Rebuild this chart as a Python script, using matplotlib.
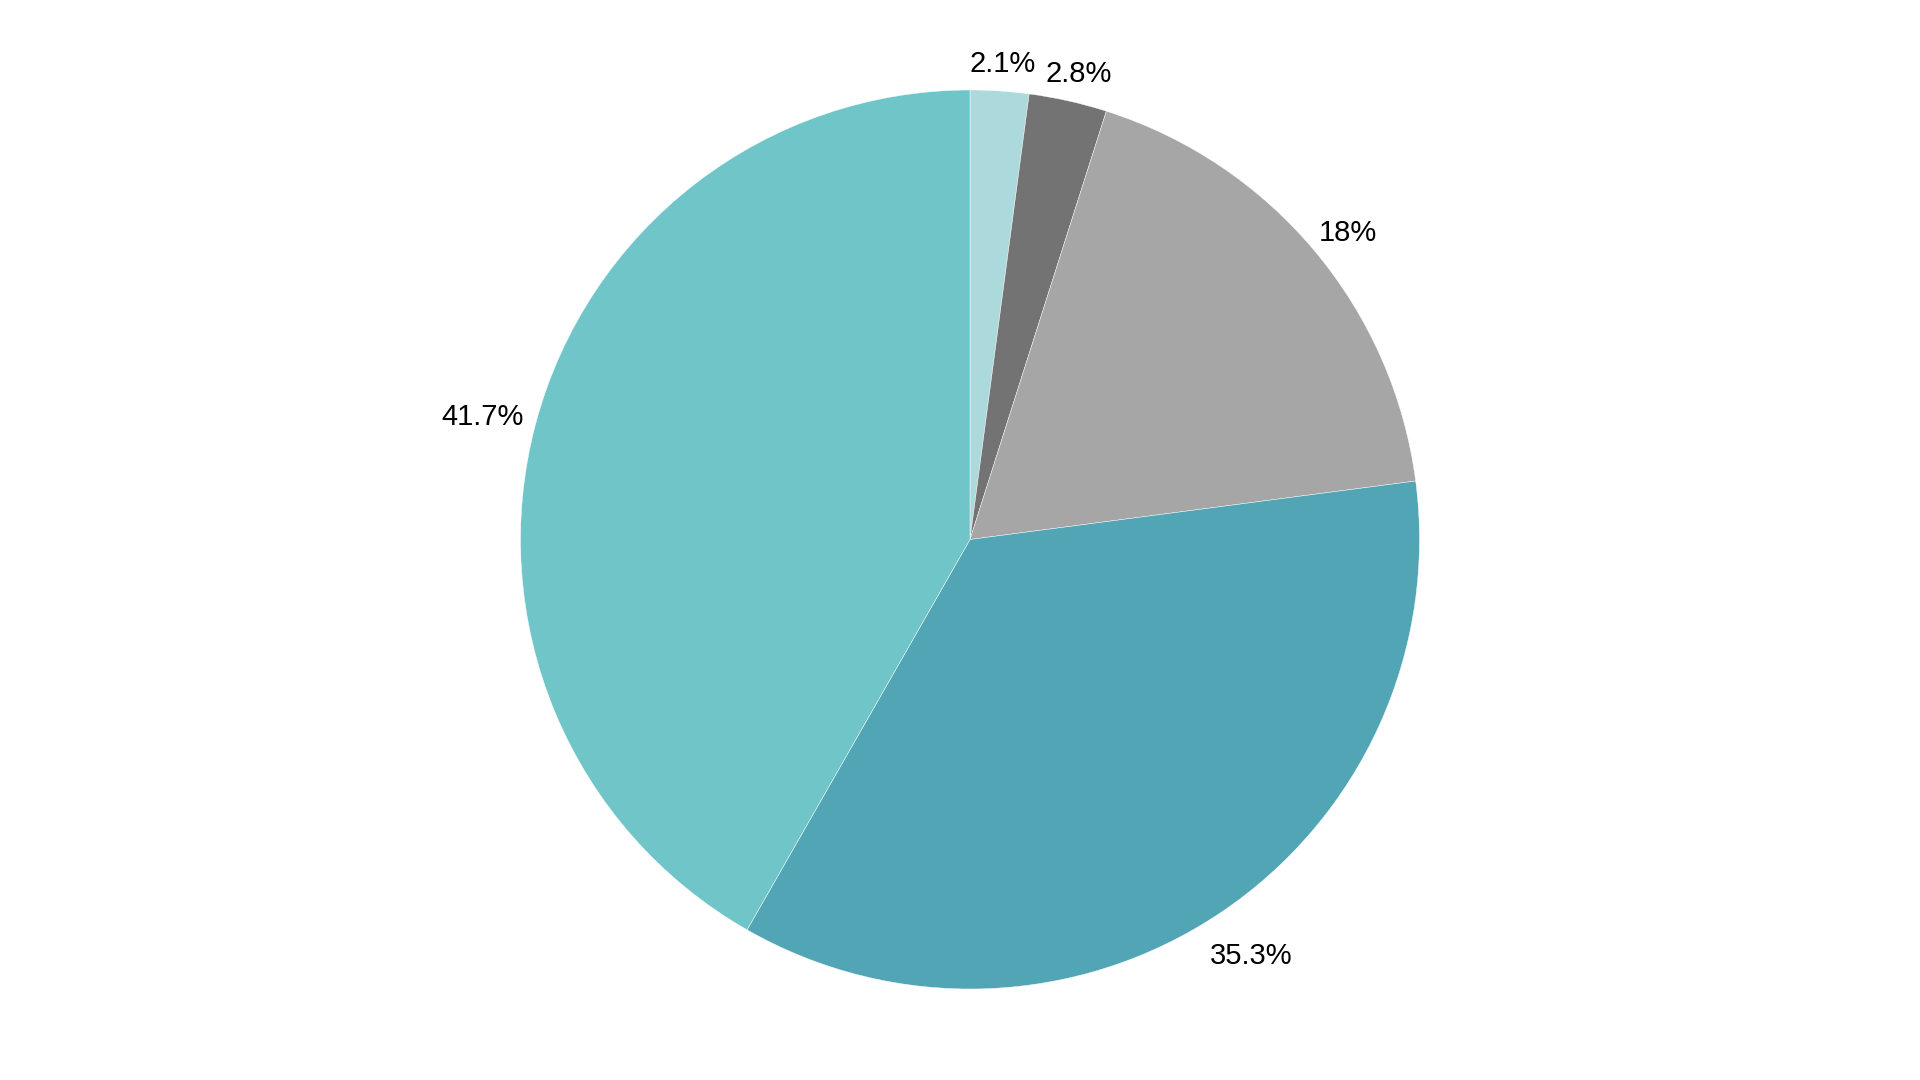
import numpy as np
import matplotlib
matplotlib.use("Agg")
import matplotlib.pyplot as plt

values = [2.1, 2.8, 18.0, 35.3, 41.7]
labels = ["2.1%", "2.8%", "18%", "35.3%", "41.7%"]
colors = ["#acd9dc", "#737373", "#a6a6a6", "#52a5b5", "#70c5c8"]

plt.rcParams['font.family'] = ['Liberation Sans', 'DejaVu Sans']

W, H = 1920, 1080
fig = plt.figure(figsize=(W / 100, H / 100), dpi=100)
cx, cy, r = 970, 540.5, 449.5
ax = fig.add_axes([(cx - r) / W, (cy - r) / H, 2 * r / W, 2 * r / H])
wedges, _ = ax.pie(values, colors=colors, startangle=90, counterclock=False,
                   radius=1.0, wedgeprops=dict(edgecolor="white", linewidth=0.3))
ax.set_xlim(-1, 1)
ax.set_ylim(-1, 1)
ax.set_aspect("equal")
ax.axis("off")

fig.canvas.draw()
renderer = fig.canvas.get_renderer()
gap = 1.03
for w, lab in zip(wedges, labels):
    th = np.deg2rad((w.theta1 + w.theta2) / 2)
    ux, uy = np.cos(th), np.sin(th)
    t = ax.text(0, 0, lab, fontsize=21, ha="center", va="center", color="black")
    bb = t.get_window_extent(renderer)
    tw, tht = bb.width, bb.height
    px = ux * gap * r + ux * tw / 2
    py = uy * gap * r + uy * tht / 2 + min(uy, 0) * tht * 0.9
    t.set_position((px / r, py / r))

fig.savefig("out.png", dpi=100)
